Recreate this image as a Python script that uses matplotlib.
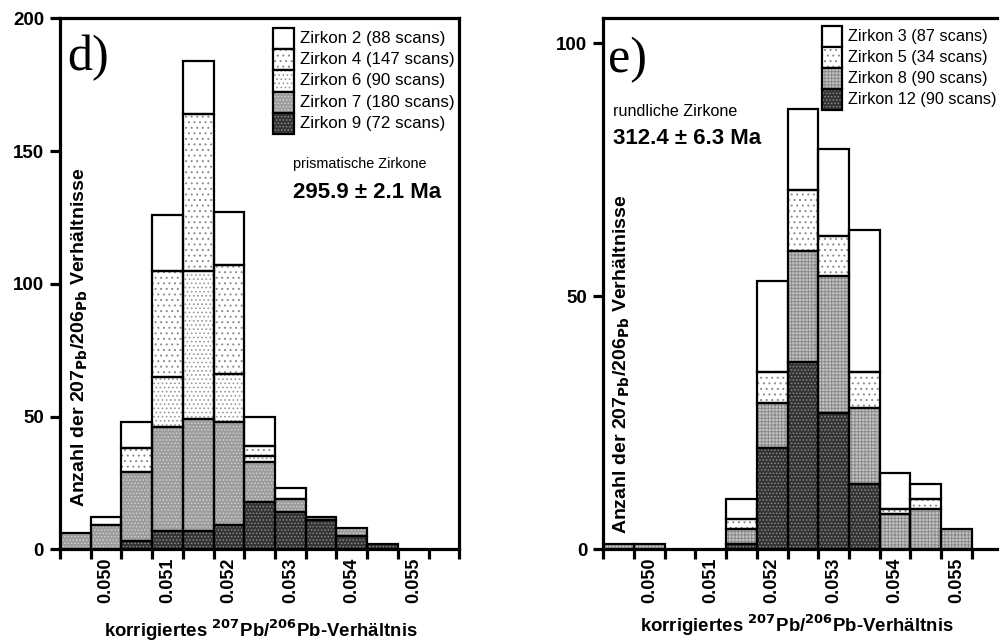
import numpy as np
import matplotlib.pyplot as plt
from matplotlib.patches import Rectangle

plt.rcParams['font.family'] = ['Liberation Sans', 'DejaVu Sans']
plt.rcParams['hatch.linewidth'] = 0.7

# histogram bins (bin width 0.0005), labels sit on every other bin centre
centers = [0.0495, 0.0500, 0.0505, 0.0510, 0.0515, 0.0520, 0.0525,
           0.0530, 0.0535, 0.0540, 0.0545, 0.0550, 0.0555]
tick_vals = [0.050, 0.051, 0.052, 0.053, 0.054, 0.055]
tick_labels = ['0.050', '0.051', '0.052', '0.053', '0.054', '0.055']

# panel d) prismatische Zirkone, stacked bottom -> top
z9_d = [0, 0, 3, 7, 7, 9, 18, 14, 11, 5, 2, 0, 0]
z7_d = [6, 9, 26, 39, 42, 39, 15, 5, 1, 3, 0, 0, 0]
z6_d = [0, 0, 0, 19, 56, 18, 2, 0, 0, 0, 0, 0, 0]
z4_d = [0, 0, 9, 40, 59, 41, 4, 0, 0, 0, 0, 0, 0]
z2_d = [0, 3, 10, 21, 20, 20, 11, 4, 0, 0, 0, 0, 0]

# panel e) rundliche Zirkone, stacked bottom -> top
z12_e = [0, 0, 0, 0, 1, 20, 37, 27, 13, 0, 0, 0, 0]
z8_e = [1, 1, 0, 0, 3, 9, 22, 27, 15, 7, 8, 4, 0]
z5_e = [0, 0, 0, 0, 2, 6, 12, 8, 7, 1, 2, 0, 0]
z3_e = [0, 0, 0, 0, 4, 18, 16, 17, 28, 7, 3, 0, 0]

names_d = ['Zirkon 9 (72 scans)', 'Zirkon 7 (180 scans)', 'Zirkon 6 (90 scans)',
           'Zirkon 4 (147 scans)', 'Zirkon 2 (88 scans)']
names_e = ['Zirkon 12 (90 scans)', 'Zirkon 8 (90 scans)', 'Zirkon 5 (34 scans)',
           'Zirkon 3 (87 scans)']

# (facecolor, hatch, hatch colour)
WHITE = ('white', None, 'white')
DOTS = ('white', '...', '#8a8a8a')
FINEDOTS = ('white', '....', '#9a9a9a')
MIDGRAY = ('#9c9c9c', '.....', '#cfcfcf')
DARK = ('#333333', '.....', '#8a8a8a')
GRID = ('#c4c4c4', '+++++', '#8a8a8a')

styles_d = [DARK, MIDGRAY, FINEDOTS, DOTS, WHITE]
styles_e = [DARK, GRID, DOTS, WHITE]

W = 0.0005
edges = 0.04925 + W * np.arange(14)
LW = 1.6
SPINE = 2.3


def stacked(ax, series, styles):
    bottom = np.zeros(len(centers))
    for vals, (fc, hatch, hc) in zip(series, styles):
        vals = np.array(vals, dtype=float)
        m = vals > 0
        x = np.array(centers)[m]
        ax.bar(x, vals[m], W, bottom=bottom[m], facecolor=fc, hatch=hatch,
               edgecolor=hc, linewidth=0, zorder=2)
        ax.bar(x, vals[m], W, bottom=bottom[m], fill=False,
               edgecolor='black', linewidth=LW, zorder=3)
        bottom += vals


def setup(ax, ymax, yticks):
    ax.set_xlim(edges[0], edges[-1])
    ax.set_ylim(0, ymax)
    ax.set_xticks(edges)
    ax.set_xticklabels([''] * len(edges))
    ax.set_xticks(tick_vals, tick_labels, minor=True)
    ax.tick_params(axis='x', which='major', direction='out', length=7, width=SPINE)
    ax.tick_params(axis='x', which='minor', length=0, pad=6, labelsize=13,
                   labelrotation=90)
    ax.set_yticks(yticks)
    ax.tick_params(axis='y', direction='out', length=7, width=SPINE, pad=4.5,
                   labelsize=13.5)
    for lbl in ax.get_xticklabels(minor=True) + ax.get_yticklabels():
        lbl.set_fontweight('bold')
    for s in ax.spines.values():
        s.set_linewidth(SPINE)
        s.set_zorder(4)


def legend(fig, names, styles, x0, ytop, w, h, tx, size):
    for i, (name, (fc, hatch, hc)) in enumerate(zip(names[::-1], styles[::-1])):
        y = ytop - (i + 1) * h
        fig.add_artist(Rectangle((x0, y), w, h, transform=fig.transFigure,
                                 facecolor=fc, hatch=hatch, edgecolor=hc, linewidth=0))
        fig.add_artist(Rectangle((x0, y), w, h, transform=fig.transFigure,
                                 fill=False, edgecolor='black', linewidth=LW))
        fig.text(tx, y + h / 2, name, fontsize=size, va='center', ha='left')


fig = plt.figure(figsize=(9.99, 6.44), dpi=100)

ax1 = fig.add_axes([0.0601, 0.1470, 0.3997, 0.8245])
stacked(ax1, [z9_d, z7_d, z6_d, z4_d, z2_d], styles_d)
setup(ax1, 200, [0, 50, 100, 150, 200])

ax2 = fig.add_axes([0.6039, 0.1470, 0.3997, 0.8245])
stacked(ax2, [z12_e, z8_e, z5_e, z3_e], styles_e)
setup(ax2, 104.9, [0, 50, 100])
ax2.spines['right'].set_visible(False)

# in-plot y axis titles
ylab = 'Anzahl der 207$_{\\mathbf{Pb}}$/206$_{\\mathbf{Pb}}$ Verhältnisse'
fig.text(0.080, 0.4767, ylab, rotation=90, fontsize=14, fontweight='bold',
         ha='center', va='center')
fig.text(0.6226, 0.4348, ylab, rotation=90, fontsize=14, fontweight='bold',
         ha='center', va='center')

xlab = 'korrigiertes $^{\\mathbf{207}}$Pb/$^{\\mathbf{206}}$Pb-Verhältnis'
fig.text(0.2613, 0.011, xlab, fontsize=13.4, fontweight='bold', ha='center', va='baseline')
fig.text(0.7978, 0.019, xlab, fontsize=13.4, fontweight='bold', ha='center', va='baseline')

# panel letters
fig.text(0.067, 1 - 70 / 644, 'd)', family='Liberation Serif', fontsize=36, va='baseline')
fig.text(0.6086, 1 - 72 / 644, 'e)', family='Liberation Serif', fontsize=36, va='baseline')

# ages
fig.text(0.2933, 1 - 164 / 644, 'prismatische Zirkone', fontsize=10.4, va='center')
fig.text(0.2933, 1 - 192 / 644, '295.9 ± 2.1 Ma', fontsize=16, fontweight='bold', va='center')
fig.text(0.6133, 1 - 111 / 644, 'rundliche Zirkone', fontsize=11.6, va='center')
fig.text(0.6133, 1 - 138 / 644, '312.4 ± 6.3 Ma', fontsize=16, fontweight='bold', va='center')

legend(fig, names_d, styles_d, 0.2736, 1 - 27.7 / 644, 0.0210, 21.3 / 644, 0.3003, 12.2)
legend(fig, names_e, styles_e, 0.8225, 1 - 26 / 644, 0.0200, 21.0 / 644, 0.8490, 11.7)

fig.savefig('out.png', dpi=100)
